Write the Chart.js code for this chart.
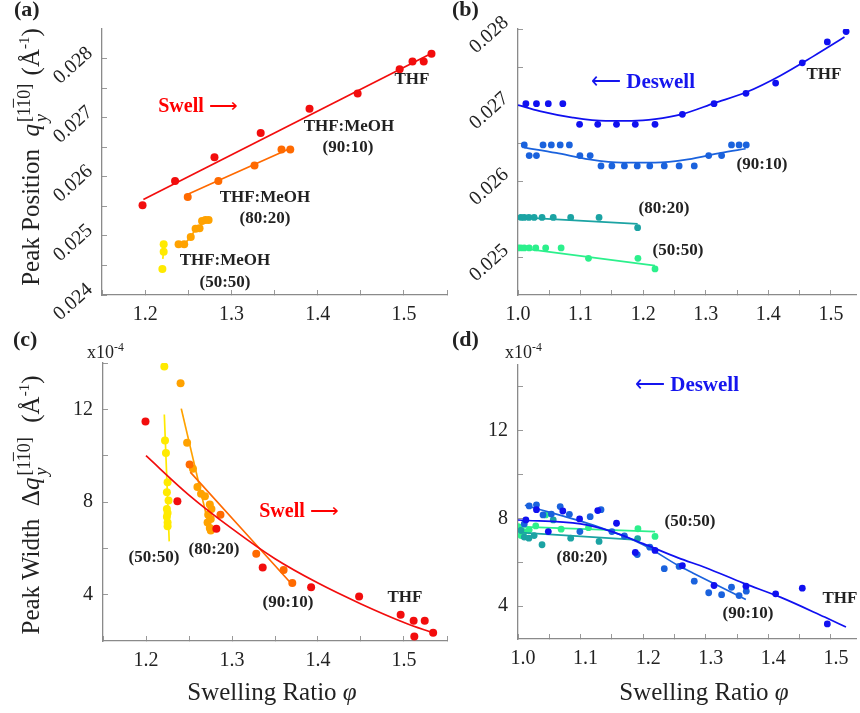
<!DOCTYPE html>
<html>
<head>
<meta charset="utf-8">
<script src="https://cdn.jsdelivr.net/npm/chart.js@4.4.0/dist/chart.umd.min.js"></script>
<style>
  body { margin: 0; width: 860px; height: 713px; overflow: hidden; background: #fff; position: relative; font-family: "Liberation Serif", serif; color: #222; }
  .box { position: absolute; }
  .t { position: absolute; white-space: nowrap; font-weight: bold; font-size: 17px; transform: translate(-50%, -50%); }
  .lt { position: absolute; white-space: nowrap; font-weight: bold; font-size: 22px; }
  .ytitle { position: absolute; white-space: nowrap; font-size: 25px; transform: translate(-50%, -50%) rotate(-90deg); }
  .xtitle { position: absolute; white-space: nowrap; font-size: 25px; transform: translate(-50%, -50%); }
  .stk { display: inline-flex; flex-direction: column; vertical-align: middle; font-size: 0.72em; line-height: 0.95; margin: 0 2px; }
  .ov { text-decoration: overline; }
  .exp { position: absolute; font-size: 18px; white-space: nowrap; }
  .arr { font-weight: normal; }
</style>
</head>
<body>

<div class="box" style="left:0;top:0;width:460px;height:330px"><canvas id="cA"></canvas></div>
<div class="box" style="left:456px;top:0;width:404px;height:330px"><canvas id="cB"></canvas></div>
<div class="box" style="left:0;top:330px;width:460px;height:383px"><canvas id="cC"></canvas></div>
<div class="box" style="left:456px;top:330px;width:404px;height:383px"><canvas id="cD"></canvas></div>

<!-- panel letters -->
<div class="lt" style="left:14px;top:-4px">(a)</div>
<div class="lt" style="left:452px;top:-4px">(b)</div>
<div class="lt" style="left:13px;top:326px">(c)</div>
<div class="lt" style="left:452px;top:326px">(d)</div>

<!-- axis titles -->
<div class="ytitle" style="left:33px;top:157px">Peak Position&nbsp; <i>q</i><span class="stk"><span>[1<span class="ov">1</span>0]</span><span><i>y</i></span></span> (Å<sup style="font-size:0.6em">-1</sup>)</div>
<div class="ytitle" style="left:33px;top:505px">Peak Width&nbsp; Δ<i>q</i><span class="stk"><span>[1<span class="ov">1</span>0]</span><span><i>y</i></span></span>&nbsp; (Å<sup style="font-size:0.6em">-1</sup>)</div>
<div class="xtitle" style="left:272px;top:692px">Swelling Ratio <i>φ</i></div>
<div class="xtitle" style="left:704px;top:692px">Swelling Ratio <i>φ</i></div>
<div class="exp" style="left:87px;top:341px">x10<sup style="font-size:0.65em">-4</sup></div>
<div class="exp" style="left:505px;top:341px">x10<sup style="font-size:0.65em">-4</sup></div>

<!-- (a) notes -->
<div class="t" style="left:198px;top:105px;color:#f00;font-size:20px">Swell <span class="arr">⟶</span></div>
<div class="t" style="left:412px;top:79px">THF</div>
<div class="t" style="left:349px;top:126px">THF:MeOH</div>
<div class="t" style="left:348px;top:147px">(90:10)</div>
<div class="t" style="left:265px;top:197px">THF:MeOH</div>
<div class="t" style="left:265px;top:218px">(80:20)</div>
<div class="t" style="left:225px;top:260px">THF:MeOH</div>
<div class="t" style="left:225px;top:282px">(50:50)</div>

<!-- (b) notes -->
<div class="t" style="left:643px;top:81px;color:#1515ee;font-size:21px"><span class="arr">⟵</span> Deswell</div>
<div class="t" style="left:824px;top:74px">THF</div>
<div class="t" style="left:762px;top:164px">(90:10)</div>
<div class="t" style="left:664px;top:208px">(80:20)</div>
<div class="t" style="left:678px;top:250px">(50:50)</div>

<!-- (c) notes -->
<div class="t" style="left:154px;top:557px">(50:50)</div>
<div class="t" style="left:214px;top:549px">(80:20)</div>
<div class="t" style="left:299px;top:510px;color:#f00;font-size:20px">Swell <span class="arr">⟶</span></div>
<div class="t" style="left:288px;top:602px">(90:10)</div>
<div class="t" style="left:405px;top:597px">THF</div>

<!-- (d) notes -->
<div class="t" style="left:687px;top:384px;color:#1515ee;font-size:21px"><span class="arr">⟵</span> Deswell</div>
<div class="t" style="left:690px;top:521px">(50:50)</div>
<div class="t" style="left:582px;top:557px">(80:20)</div>
<div class="t" style="left:748px;top:613px">(90:10)</div>
<div class="t" style="left:840px;top:598px">THF</div>

<script>
const FONT = '"Liberation Serif", serif';

// colours
const RED = '#f20d0d', ORG = '#ff6a00', AMB = '#ffa200', YEL = '#ffea00';
const BLU = '#1010f0', MBL = '#1a62dd', TEA = '#1ba3a3', GRN = '#2cf08c';

// (a) swell, peak position [phi, q]
const aThf = [[1.197,0.02552],[1.2347,0.02593],[1.2804,0.02633],[1.334,0.02674],[1.3906,0.02715],[1.4464,0.02741],[1.4951,0.02782],[1.510,0.02795],[1.523,0.02795],[1.532,0.02808]];
const aThfFit = [[1.198,0.025616],[1.534,0.028103]];
const a9010 = [[1.2494,0.02566],[1.2849,0.02593],[1.3268,0.02619],[1.3581,0.02646],[1.3683,0.02646]];
const a9010Fit = [[1.2457,0.02568],[1.368,0.02648]];
const a8020 = [[1.2388,0.02486],[1.2453,0.02486],[1.2529,0.02498],[1.2585,0.02512],[1.2631,0.02513],[1.266,0.02525],[1.2699,0.02527],[1.2736,0.02527]];
const a5050 = [[1.2215,0.02486],[1.2215,0.02473],[1.22,0.02444]];
const a5050Fit = [[1.2225,0.0249],[1.2205,0.02461]];

// (b) deswell, peak position
const bThf = [[1.0126,0.027017],[1.0295,0.027017],[1.0484,0.027017],[1.0716,0.027017],[1.0984,0.026746],[1.1274,0.026746],[1.1574,0.026746],[1.1874,0.026746],[1.2189,0.026746],[1.2626,0.026877],[1.3132,0.027017],[1.3642,0.027153],[1.4116,0.027288],[1.4542,0.027555],[1.4942,0.02783],[1.5242,0.027966]];
const bThfFit = [[1.0,0.0270],[1.0347,0.02692],[1.0874,0.026835],[1.14,0.026792],[1.182,0.026792],[1.219,0.026814],[1.261,0.026877],[1.3137,0.027025],[1.3663,0.027174],[1.419,0.027386],[1.4716,0.02764],[1.5216,0.027894]];
const b9010 = [[1.01,0.026475],[1.0179,0.026335],[1.0295,0.026335],[1.04,0.026475],[1.0532,0.026475],[1.0674,0.026475],[1.0821,0.026475],[1.0989,0.026335],[1.1153,0.026335],[1.1326,0.026199],[1.15,0.026199],[1.17,0.026199],[1.1905,0.026199],[1.2105,0.026199],[1.2337,0.026199],[1.2574,0.026199],[1.2816,0.026199],[1.3047,0.026335],[1.3253,0.026335],[1.3411,0.026475],[1.3532,0.026475],[1.3647,0.026475]];
const b9010Fit = [[1.01,0.02644],[1.061,0.026369],[1.1137,0.026284],[1.1663,0.026242],[1.219,0.026242],[1.2716,0.026284],[1.3242,0.026369],[1.3637,0.026424]];
const b8020 = [[1.0047,0.025521],[1.01,0.025521],[1.0174,0.025521],[1.0258,0.025521],[1.0384,0.025521],[1.0563,0.025521],[1.0842,0.025521],[1.1295,0.025521],[1.1911,0.025386]];
const b8020Fit = [[1.0032,0.025521],[1.1911,0.025436]];
const b5050 = [[1.0005,0.025119],[1.0047,0.025119],[1.01,0.025119],[1.0179,0.025119],[1.0284,0.025119],[1.0442,0.025119],[1.0689,0.025119],[1.1126,0.024983],[1.1916,0.024983],[1.2189,0.024843]];
const b5050Fit = [[1.0005,0.025119],[1.2189,0.024886]];

// (c) swell, peak width (x1e-4)
const cThf = [[1.1994,11.47],[1.2365,8.03],[1.2818,6.84],[1.3357,5.17],[1.392,4.32],[1.4478,3.92],[1.4961,3.13],[1.5112,2.87],[1.5241,2.87],[1.512,2.19],[1.5339,2.36]];
const cThfFit = [[1.2,10.0],[1.25,8.3],[1.3,6.85],[1.35,5.55],[1.4,4.5],[1.45,3.6],[1.5,2.8],[1.535,2.33]];
const c9010 = [[1.2507,9.62],[1.2866,7.45],[1.3282,5.77],[1.36,5.07],[1.3701,4.5]];
const c9010Fit = [[1.2515,9.29],[1.3667,4.57]];
const c8020 = [[1.2402,13.13],[1.2478,10.56],[1.2546,9.43],[1.2598,8.65],[1.264,8.36],[1.2685,8.25],[1.2742,7.89],[1.2761,7.7],[1.2723,7.45],[1.2753,7.27],[1.2716,7.12],[1.2742,6.88],[1.2753,6.77]];
const c8020Fit = [[1.241,12.03],[1.2723,7.09]];
const c5050 = [[1.2213,13.85],[1.2221,10.66],[1.2232,10.11],[1.2251,8.85],[1.2243,8.42],[1.2262,8.07],[1.2243,7.7],[1.2251,7.53],[1.2243,7.36],[1.2251,7.12],[1.2251,6.95]];
const c5050Fit = [[1.2213,11.78],[1.227,6.3]];

// (d) deswell, peak width (x1e-4)
const dThf = [[1.0126,7.93],[1.0295,8.4],[1.0484,7.4],[1.0716,8.34],[1.0984,7.98],[1.1274,8.36],[1.1574,7.78],[1.1874,6.45],[1.2189,6.54],[1.2626,5.85],[1.3132,4.94],[1.3642,4.91],[1.4116,4.56],[1.4542,4.82],[1.4942,3.19]];
const dThfFit = [[1.0,7.93],[1.1,7.75],[1.15,7.4],[1.2,6.85],[1.256,6.2],[1.3,5.75],[1.36,5.05],[1.42,4.4],[1.49,3.5],[1.524,3.05]];
const d9010 = [[1.01,7.75],[1.0179,8.57],[1.0295,8.62],[1.04,8.16],[1.0532,8.2],[1.0674,8.54],[1.0821,8.19],[1.0989,7.4],[1.1153,8.08],[1.1326,8.4],[1.15,7.4],[1.17,7.2],[1.1905,6.35],[1.2105,6.69],[1.2337,5.71],[1.2574,5.81],[1.2816,5.14],[1.3047,4.61],[1.3253,4.52],[1.3411,4.86],[1.3532,4.48],[1.3647,4.68]];
const d9010Fit = [[1.011,8.6],[1.127,7.63],[1.2,6.8],[1.256,5.85],[1.28,5.5],[1.364,4.3]];
const d8020 = [[1.0047,7.45],[1.01,7.15],[1.0174,7.1],[1.0258,7.22],[1.0384,6.8],[1.0563,7.93],[1.0842,7.1],[1.1295,6.95],[1.1911,7.08]];
const d8020Fit = [[1.005,7.35],[1.19,7.02]];
const d5050 = [[1.0005,7.63],[1.0047,7.22],[1.01,7.4],[1.0179,7.48],[1.0284,7.66],[1.0442,8.16],[1.0689,7.51],[1.1126,7.58],[1.1916,7.53],[1.2189,7.18]];
const d5050Fit = [[1.0,7.63],[1.219,7.4]];

// ticks
const xTicksSwell = [1.15,1.2,1.25,1.3,1.35,1.4,1.45,1.5,1.55];
const xTicksDeswell = [1.0,1.05,1.1,1.15,1.2,1.25,1.3,1.35,1.4,1.45,1.5];
const xLabels = [1.0,1.1,1.2,1.3,1.4,1.5];
const yTicksA = [0.024,0.0245,0.025,0.0255,0.026,0.0265,0.027,0.0275,0.028];
const yTicksB = [0.025,0.0255,0.026,0.0265,0.027,0.0275,0.028];
const yLabelsPos = [0.024,0.025,0.026,0.027,0.028];
const yTicksWidth = [4,6,8,10,12,14];
const yLabelsWidth = [4,8,12];

function pts(a) { return a.map(p => ({ x: p[0], y: p[1] })); }

function fitSet(a, color) {
  return { data: pts(a), showLine: true, borderColor: color, borderWidth: 1.7, pointRadius: 0, cubicInterpolationMode: 'monotone' };
}
function dotSet(a, color, r, join) {
  return { data: pts(a), showLine: !!join, borderColor: color, borderWidth: join ? 1.7 : 0, backgroundColor: color,
           pointBackgroundColor: color, pointBorderWidth: 0, pointRadius: r };
}

function axis(o) {
  return {
    type: 'linear', min: o.min, max: o.max,
    afterBuildTicks: s => { s.ticks = o.ticks.map(v => ({ value: v })); },
    afterFit: s => { if (o.h) s.height = o.h; if (o.w) s.width = o.w; },
    grid: { drawOnChartArea: false, drawTicks: true, tickLength: -5, color: '#999', lineWidth: 1 },
    border: { color: '#8a8a8a', width: 1.3 },
    ticks: {
      autoSkip: false, padding: o.pad, color: '#222', labelOffset: o.off || 0,
      font: { family: FONT, size: 20 },
      minRotation: o.rot || 0, maxRotation: o.rot || 0,
      callback: v => o.labels.includes(v) ? v.toFixed(o.dec) : ''
    }
  };
}

function panel(id, datasets, xo, yo, padTop, padRight) {
  new Chart(document.getElementById(id), {
    type: 'scatter',
    data: { datasets },
    options: {
      responsive: true, maintainAspectRatio: false, animation: false,
      layout: { padding: { top: padTop, right: padRight, left: 0, bottom: 0 } },
      plugins: { legend: { display: false }, tooltip: { enabled: false } },
      scales: { x: axis(xo), y: axis(yo) }
    }
  });
}

panel('cA', [
  fitSet(aThfFit, RED), dotSet(aThf, RED, 4),
  fitSet(a9010Fit, ORG), dotSet(a9010, ORG, 4),
  dotSet(a8020, AMB, 4, true),
  fitSet(a5050Fit, YEL), dotSet(a5050, YEL, 4)
], { min: 1.15, max: 1.55, ticks: xTicksSwell, labels: xLabels, dec: 1, h: 35, pad: 13 },
   { min: 0.024, max: 0.0285, ticks: yTicksA, labels: yLabelsPos, dec: 3, w: 102, pad: 17, rot: 42, off: -8 }, 18, 6);

panel('cB', [
  fitSet(bThfFit, BLU), dotSet(bThf, BLU, 3.4),
  fitSet(b9010Fit, MBL), dotSet(b9010, MBL, 3.4),
  fitSet(b8020Fit, TEA), dotSet(b8020, TEA, 3.4),
  fitSet(b5050Fit, GRN), dotSet(b5050, GRN, 3.4)
], { min: 1.0, max: 1.54, ticks: xTicksDeswell, labels: xLabels, dec: 1, h: 35, pad: 13 },
   { min: 0.0245, max: 0.028, ticks: yTicksB, labels: yLabelsPos, dec: 3, w: 62, pad: 17, rot: 42, off: -9 }, 19, 0);

panel('cC', [
  fitSet(cThfFit, RED), dotSet(cThf, RED, 4),
  fitSet(c9010Fit, ORG), dotSet(c9010, ORG, 4),
  fitSet(c8020Fit, AMB), dotSet(c8020, AMB, 4),
  fitSet(c5050Fit, YEL), dotSet(c5050, YEL, 4)
], { min: 1.15, max: 1.55, ticks: xTicksSwell, labels: xLabels, dec: 1, h: 72, pad: 13 },
   { min: 2, max: 14, ticks: yTicksWidth, labels: yLabelsWidth, dec: 0, w: 103, pad: 15 }, 33, 6);

panel('cD', [
  fitSet(dThfFit, BLU), dotSet(dThf, BLU, 3.4),
  fitSet(d9010Fit, MBL), dotSet(d9010, MBL, 3.4),
  fitSet(d8020Fit, TEA), dotSet(d8020, TEA, 3.4),
  fitSet(d5050Fit, GRN), dotSet(d5050, GRN, 3.4)
], { min: 1.0, max: 1.54, ticks: xTicksDeswell, labels: xLabels, dec: 1, h: 74, pad: 13, off: 5 },
   { min: 2.5, max: 15, ticks: yTicksWidth, labels: yLabelsWidth, dec: 0, w: 62, pad: 15 }, 35, 0);
</script>
</body>
</html>
